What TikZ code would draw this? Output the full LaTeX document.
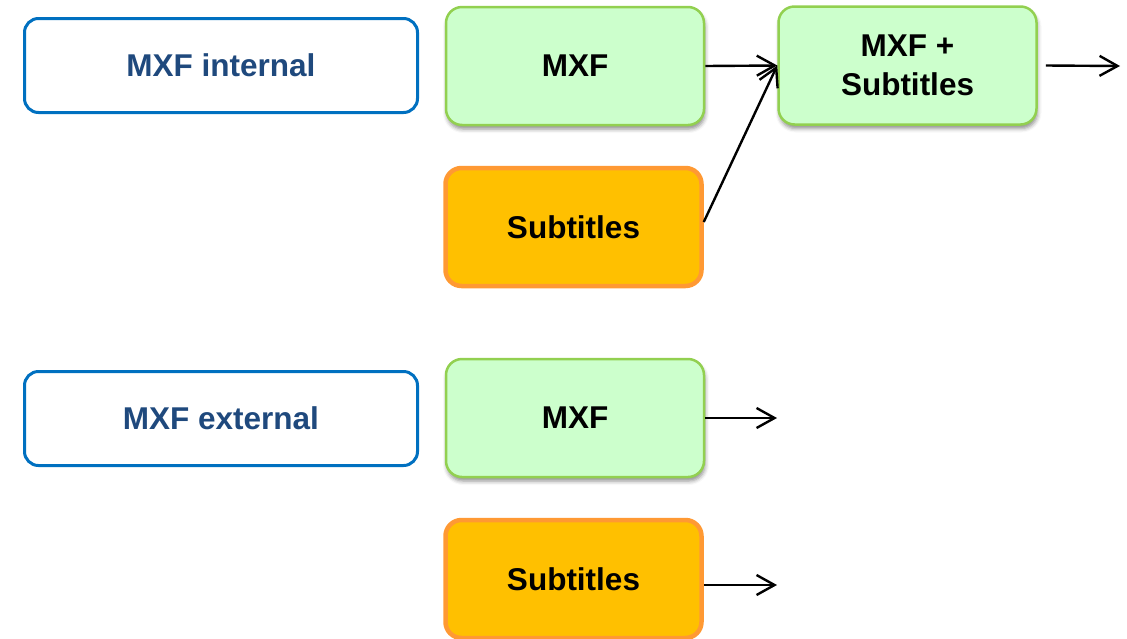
\documentclass[tikz,border=0pt]{standalone}
\usepackage{fontspec}
\setmainfont{Liberation Sans}
\usetikzlibrary{arrows.meta,shadows.blur}
\definecolor{labelblue}{HTML}{1F497D}
\definecolor{frameblue}{HTML}{0070C0}
\definecolor{mxffill}{HTML}{CCFFCC}
\definecolor{mxfline}{HTML}{92D050}
\definecolor{subfill}{HTML}{FFC000}
\definecolor{subline}{HTML}{FF9933}
\tikzset{
  boxtext/.style={font=\fontsize{31.5}{36}\selectfont\bfseries, align=center},
  kindbox/.style={boxtext, draw=frameblue, line width=3pt, rounded corners=14pt,
    fill=white, text=labelblue, minimum width=393pt, minimum height=94pt},
  mxfbox/.style={boxtext, draw=mxfline, line width=2.5pt, fill=mxffill, rounded corners=16pt,
    minimum width=258pt, minimum height=118pt,
    blur shadow={shadow xshift=1pt, shadow yshift=-4pt, shadow blur radius=4pt,
      shadow opacity=45}},
  subbox/.style={boxtext, draw=subline, line width=4.5pt, fill=subfill, rounded corners=16pt,
    minimum width=256pt, minimum height=118pt},
  flow/.style={line width=2.4pt, -{Straight Barb[length=18pt, width=20pt, line width=2.4pt]}},
}
\begin{document}
\begin{tikzpicture}[x=1pt, y=-1pt]
  \useasboundingbox (0,0) rectangle (1127,638);

  % row labels
  \node[kindbox] (internal) at (221,65.5) {MXF internal};
  \node[kindbox] (external) at (221,418.5) {MXF external};

  % internal: muxed into one file
  \node[mxfbox] (mxfA) at (575,66) {MXF};
  \node[subbox] (subA) at (573.5,227) {Subtitles};
  \node[mxfbox] (combo) at (907.5,65.5) {MXF +\\[3pt]Subtitles};

  % external: delivered side by side
  \node[mxfbox] (mxfB) at (575,418) {MXF};
  \node[subbox] (subB) at (573.5,579) {Subtitles};

  \coordinate (outA) at (1120,66);
  \coordinate (outB) at (777,418);
  \coordinate (outC) at (777,585);

  \draw[flow] (mxfA.east) -- (combo.west);
  \draw[flow] (subA.east |- 0,222) -- (combo.west);
  \draw[flow] ([xshift=8pt]combo.east) -- (outA);
  \draw[flow] (mxfB.east) -- (outB);
  \draw[flow] (subB.east |- outC) -- (outC);
\end{tikzpicture}
\end{document}
